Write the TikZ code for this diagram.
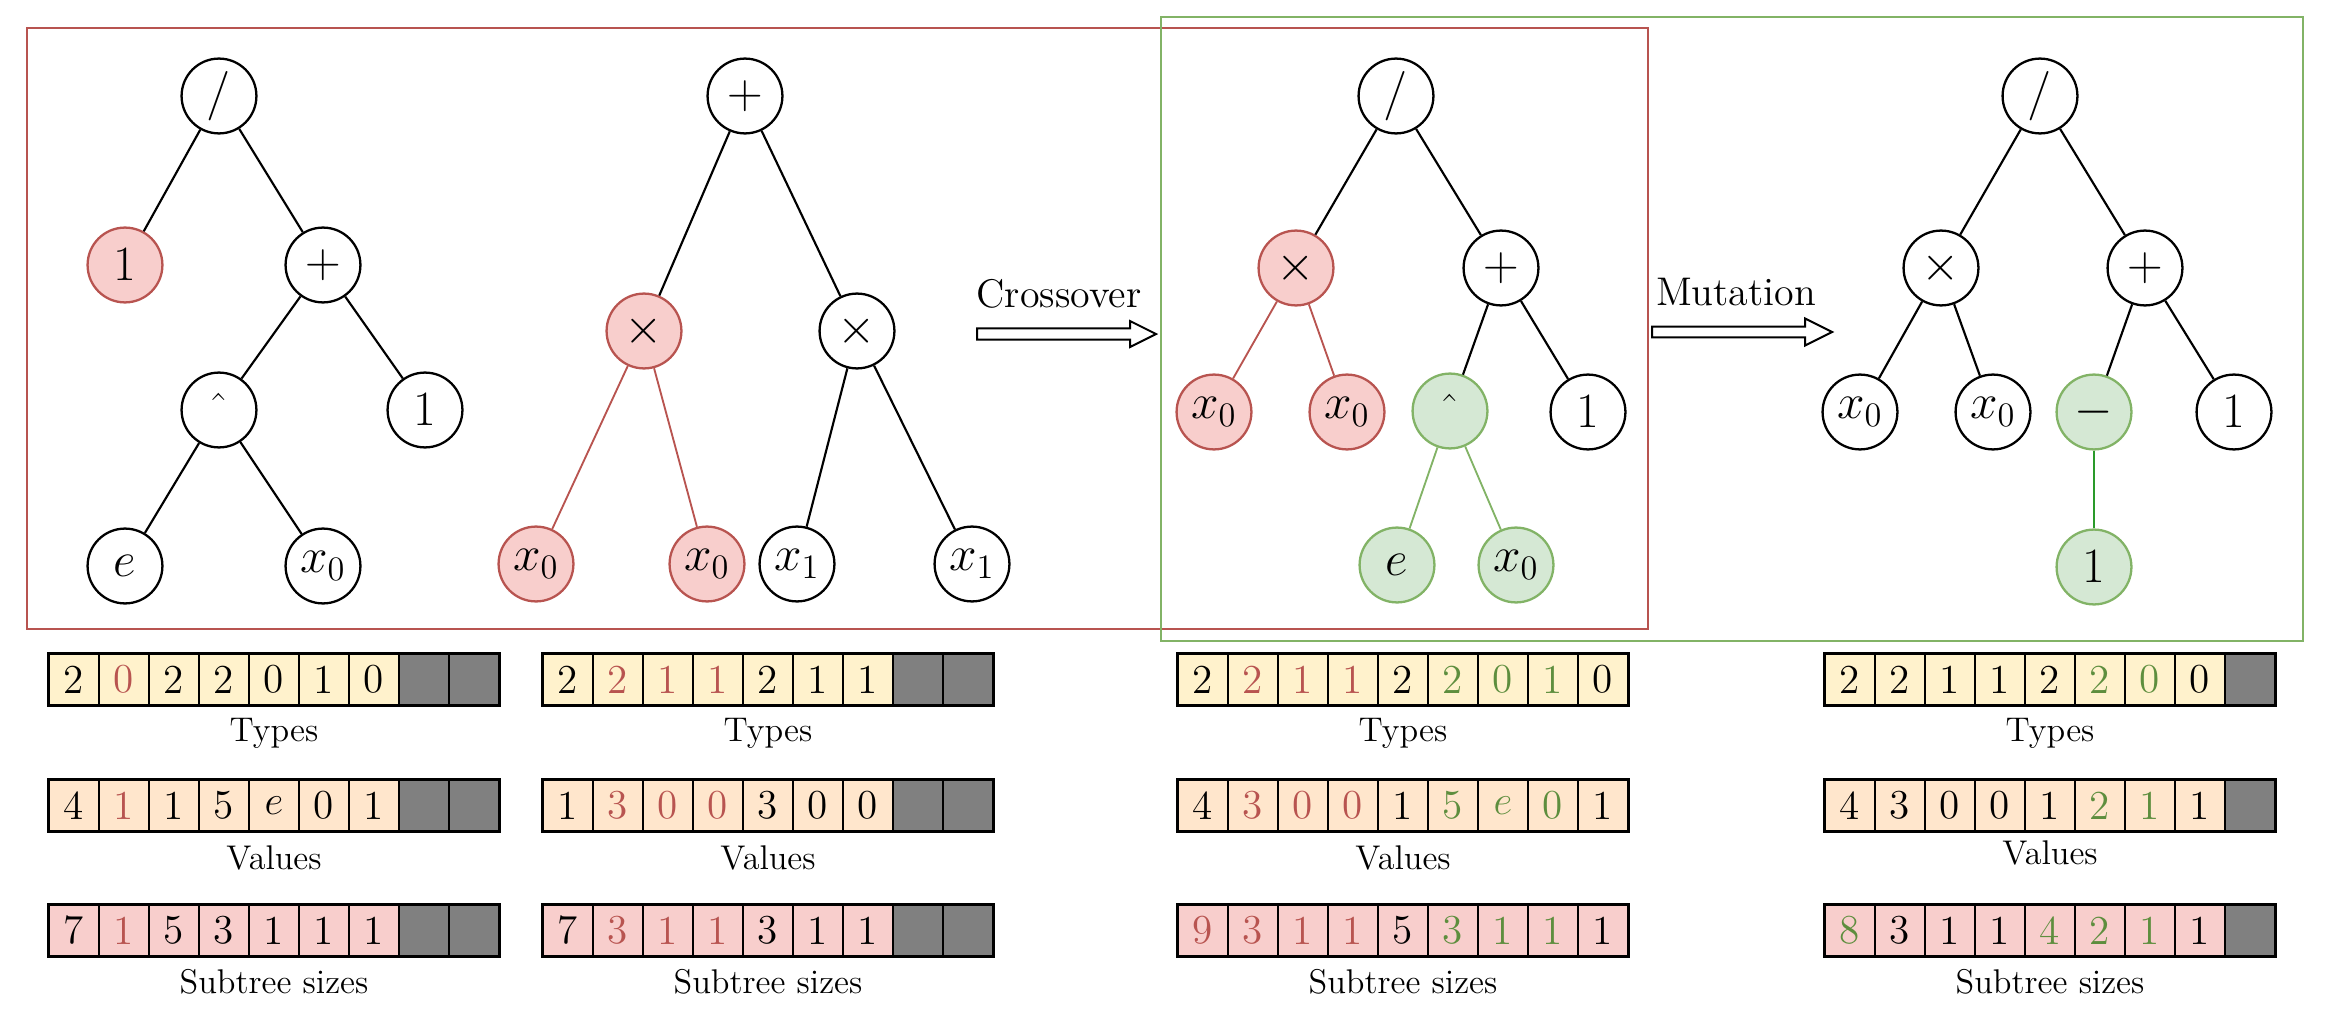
\documentclass[tikz,border=0pt]{standalone}
\definecolor{redS}{HTML}{B85450}
\definecolor{redF}{HTML}{F8CECC}
\definecolor{grnS}{HTML}{82B366}
\definecolor{grnF}{HTML}{D5E8D4}
\definecolor{grnT}{HTML}{5E8E3E}
\definecolor{grnE}{HTML}{2A9A2A}
\definecolor{typF}{HTML}{FFF2CC}
\definecolor{valF}{HTML}{FFE6CC}
\definecolor{subF}{HTML}{F8CECC}
\definecolor{cellG}{HTML}{808080}
\newcommand{\cellrowX}[5]{%
  \foreach \cval/\ccol [count=\i] in {#5}{%
    \node[cell, fill=#4, text=\ccol] (#1-\i) at (#2+\i*50-25, #3+25.5) {\cval};
  }%
}
\newcommand{\graycellX}[4]{%
  \foreach \j in {#4}{%
    \node[cell, fill=cellG] (#1-\j) at (#2+\j*50-25, #3+25.5) {};
  }%
}
\newcommand{\frameX}[1]{\draw[line width=0.9pt] (#1-1.north west) rectangle (#1-9.south east);}
\begin{document}
\begin{tikzpicture}[x=0.35pt,y=-0.35pt,
  tn/.style={circle, draw, line width=0.8pt, minimum size=26.2pt, inner sep=0pt, font=\fontsize{17.28}{20}\selectfont},
  rn/.style={tn, draw=redS, fill=redF},
  gn/.style={tn, draw=grnS, fill=grnF},
  ed/.style={line width=0.75pt},
  edR/.style={line width=0.65pt, draw=redS},
  edG/.style={line width=0.65pt, draw=grnS},
  edD/.style={line width=0.65pt, draw=grnE},
  cell/.style={rectangle, draw, line width=0.6pt, minimum width=17.5pt, minimum height=17.85pt, inner sep=0pt, font=\fontsize{14.4}{16}\selectfont},
  lab/.style={font=\fontsize{12}{14}\selectfont, inner sep=0pt, anchor=base},
  arl/.style={font=\fontsize{14}{16}\selectfont, inner sep=0pt, anchor=base},
  bigarrow/.style={line width=0.7pt, fill=white, line join=miter}]
\useasboundingbox (0,0) rectangle (2337,1021);

% frames
\draw[redS, line width=0.75pt] (27,28) rectangle (1648,629);
\draw[grnS, line width=0.75pt] (1161,17) rectangle (2303,641);

% tree 1
\node[tn] (t1r) at (219,96) {$/$};
\node[rn] (t1a) at (125,265) {$1$};
\node[tn] (t1b) at (323,265) {$+$};
\node[tn] (t1c) at (219,410) {$\hat{}$};
\node[tn] (t1d) at (425,410) {$1$};
\node[tn] (t1e) at (125,566) {$e$};
\node[tn] (t1f) at (323,566) {$x_0$};
\draw[ed] (t1r) -- (t1a);
\draw[ed] (t1r) -- (t1b);
\draw[ed] (t1b) -- (t1c);
\draw[ed] (t1b) -- (t1d);
\draw[ed] (t1c) -- (t1e);
\draw[ed] (t1c) -- (t1f);

% tree 2
\node[tn] (t2r) at (745,96) {$+$};
\node[rn] (t2a) at (644,331) {$\times$};
\node[tn] (t2b) at (857,331) {$\times$};
\node[rn] (t2c) at (536,564) {$x_0$};
\node[rn] (t2d) at (707,564) {$x_0$};
\node[tn] (t2e) at (797,564) {$x_1$};
\node[tn] (t2f) at (972,564) {$x_1$};
\draw[ed] (t2r) -- (t2a);
\draw[ed] (t2r) -- (t2b);
\draw[edR] (t2a) -- (t2c);
\draw[edR] (t2a) -- (t2d);
\draw[ed] (t2b) -- (t2e);
\draw[ed] (t2b) -- (t2f);

% tree 3
\node[tn] (t3r) at (1396,96) {$/$};
\node[rn] (t3a) at (1296,268) {$\times$};
\node[tn] (t3b) at (1501,268) {$+$};
\node[rn] (t3c) at (1214,412) {$x_0$};
\node[rn] (t3d) at (1347,412) {$x_0$};
\node[gn] (t3e) at (1450,411) {$\hat{}$};
\node[tn] (t3f) at (1588,412) {$1$};
\node[gn] (t3g) at (1397,565) {$e$};
\node[gn] (t3h) at (1516,565) {$x_0$};
\draw[ed] (t3r) -- (t3a);
\draw[ed] (t3r) -- (t3b);
\draw[edR] (t3a) -- (t3c);
\draw[edR] (t3a) -- (t3d);
\draw[ed] (t3b) -- (t3e);
\draw[ed] (t3b) -- (t3f);
\draw[edG] (t3e) -- (t3g);
\draw[edG] (t3e) -- (t3h);

% tree 4
\node[tn] (t4r) at (2040,96) {$/$};
\node[tn] (t4a) at (1941,268) {$\times$};
\node[tn] (t4b) at (2145,268) {$+$};
\node[tn] (t4c) at (1860,412) {$x_0$};
\node[tn] (t4d) at (1993,412) {$x_0$};
\node[gn] (t4e) at (2094,412) {$-$};
\node[tn] (t4f) at (2234,412) {$1$};
\node[gn] (t4g) at (2094,567) {$1$};
\draw[ed] (t4r) -- (t4a);
\draw[ed] (t4r) -- (t4b);
\draw[ed] (t4a) -- (t4c);
\draw[ed] (t4a) -- (t4d);
\draw[ed] (t4b) -- (t4e);
\draw[ed] (t4b) -- (t4f);
\draw[edD] (t4e) -- (t4g);

% operation arrows
\draw[bigarrow] (977,328.3) -- (1130,328.3) -- (1130,321) -- (1156,334) -- (1130,347) -- (1130,339.7) -- (977,339.7) -- cycle;
\node[arl] (lcross) at (1059,307.5) {Crossover};
\draw[bigarrow] (1652,326.7) -- (1805,326.7) -- (1805,318.5) -- (1832,332) -- (1805,345.5) -- (1805,337.3) -- (1652,337.3) -- cycle;
\node[arl] (lmut) at (1736,305.5) {Mutation};

% arrays: parent 1
\cellrowX{a1t}{49}{654}{typF}{2/black,0/redS,2/black,2/black,0/black,1/black,0/black}
\graycellX{a1t}{49}{654}{8,9}
\frameX{a1t}
\node[lab] (a1tl) at (274,741.7) {Types};
\cellrowX{a1v}{49}{780}{valF}{4/black,1/redS,1/black,5/black,$e$/black,0/black,1/black}
\graycellX{a1v}{49}{780}{8,9}
\frameX{a1v}
\node[lab] (a1vl) at (274,869) {Values};
\cellrowX{a1s}{49}{905}{subF}{7/black,1/redS,5/black,3/black,1/black,1/black,1/black}
\graycellX{a1s}{49}{905}{8,9}
\frameX{a1s}
\node[lab] (a1sl) at (274,993) {Subtree sizes};

% arrays: parent 2
\cellrowX{a2t}{543}{654}{typF}{2/black,2/redS,1/redS,1/redS,2/black,1/black,1/black}
\graycellX{a2t}{543}{654}{8,9}
\frameX{a2t}
\node[lab] (a2tl) at (768,741.7) {Types};
\cellrowX{a2v}{543}{780}{valF}{1/black,3/redS,0/redS,0/redS,3/black,0/black,0/black}
\graycellX{a2v}{543}{780}{8,9}
\frameX{a2v}
\node[lab] (a2vl) at (768,869) {Values};
\cellrowX{a2s}{543}{905}{subF}{7/black,3/redS,1/redS,1/redS,3/black,1/black,1/black}
\graycellX{a2s}{543}{905}{8,9}
\frameX{a2s}
\node[lab] (a2sl) at (768,993) {Subtree sizes};

% arrays: offspring
\cellrowX{a3t}{1178}{654}{typF}{2/black,2/redS,1/redS,1/redS,2/black,2/grnT,0/grnT,1/grnT,0/black}
\frameX{a3t}
\node[lab] (a3tl) at (1403,741.7) {Types};
\cellrowX{a3v}{1178}{780}{valF}{4/black,3/redS,0/redS,0/redS,1/black,5/grnT,$e$/grnT,0/grnT,1/black}
\frameX{a3v}
\node[lab] (a3vl) at (1403,869) {Values};
\cellrowX{a3s}{1178}{905}{subF}{9/redS,3/redS,1/redS,1/redS,5/black,3/grnT,1/grnT,1/grnT,1/black}
\frameX{a3s}
\node[lab] (a3sl) at (1403,993) {Subtree sizes};

% arrays: mutant
\cellrowX{a4t}{1825}{654}{typF}{2/black,2/black,1/black,1/black,2/black,2/grnT,0/grnT,0/black}
\graycellX{a4t}{1825}{654}{9}
\frameX{a4t}
\node[lab] (a4tl) at (2050,741.7) {Types};
\cellrowX{a4v}{1825}{780}{valF}{4/black,3/black,0/black,0/black,1/black,2/grnT,1/grnT,1/black}
\graycellX{a4v}{1825}{780}{9}
\frameX{a4v}
\node[lab] (a4vl) at (2050,864) {Values};
\cellrowX{a4s}{1825}{905}{subF}{8/grnT,3/black,1/black,1/black,4/grnT,2/grnT,1/grnT,1/black}
\graycellX{a4s}{1825}{905}{9}
\frameX{a4s}
\node[lab] (a4sl) at (2050,993) {Subtree sizes};
\end{tikzpicture}
\end{document}
